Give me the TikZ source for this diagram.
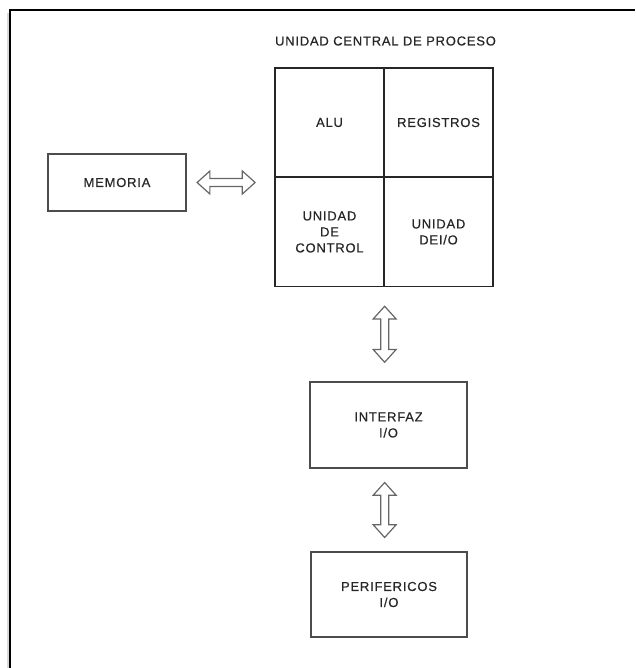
\documentclass[tikz,border=0pt]{standalone}
\usepackage{fontspec}
\setmainfont{Liberation Sans}[LetterSpace=6, FakeBold=0.5]
\usetikzlibrary{calc,shapes.arrows}

\begin{document}
\begin{tikzpicture}[x=1pt,y=-1pt,
  every node/.style={font=\fontsize{13}{16}\selectfont, text=black!85, align=center},
  blk/.style={draw=black!70, line width=1.3pt, inner sep=0pt},
  cell/.style={draw=black!85, line width=1.3pt, inner sep=0pt,
               minimum width=109pt, minimum height=109pt},
  dblarrow/.style={double arrow, draw=black!60, line width=1.2pt,
               inner xsep=0pt, inner ysep=3.4pt,
               double arrow head extend=7.5pt,
               double arrow head indent=0pt, double arrow tip angle=84}]
  \useasboundingbox (0,0) rectangle (635,668);

  % page frame with its soft shadow
  \draw[black!15, line width=1.5pt] (8,668) -- (8,13);
  \draw[black, line width=2.6pt, line join=miter] (10,668) -- (10,10) -- (635,10);

  % central processing unit
  \node (title) at (385.5,41) {UNIDAD CENTRAL DE PROCESO};
  \node[cell] (alu) at (329.5,122.5) {ALU};
  \node[cell] (reg) at (438.5,122.5) {REGISTROS};
  \node[cell] (uc)  at (329.5,232) {UNIDAD\\DE\\CONTROL};
  \node[cell] (uio) at (438.5,232) {UNIDAD\\DEI/O};

  % memory, interface and peripherals
  \node[blk, minimum width=138pt, minimum height=57pt] (mem) at (117,182.5) {MEMORIA};
  \node[blk, minimum width=157pt, minimum height=86pt] (inter) at (388.5,425) {INTERFAZ\\I/O};
  \node[blk, minimum width=156pt, minimum height=85pt] (peri) at (389,594.5) {PERIFERICOS\\I/O};

  % hollow two-way buses
  \node[dblarrow, minimum height=58pt] (busmem)
    at ($(mem.east)!0.45!(mem.east -| alu.west)$) {};
  \node[dblarrow, minimum height=56pt, rotate=90] (busio)
    at ($(uc.south east)!0.5!(uc.south east |- inter.north)$) {};
  \node[dblarrow, minimum height=55pt, rotate=90] (busper)
    at ($(inter.south -| uc.south east)!0.5!(peri.north -| uc.south east)$) {};
\end{tikzpicture}
\end{document}
